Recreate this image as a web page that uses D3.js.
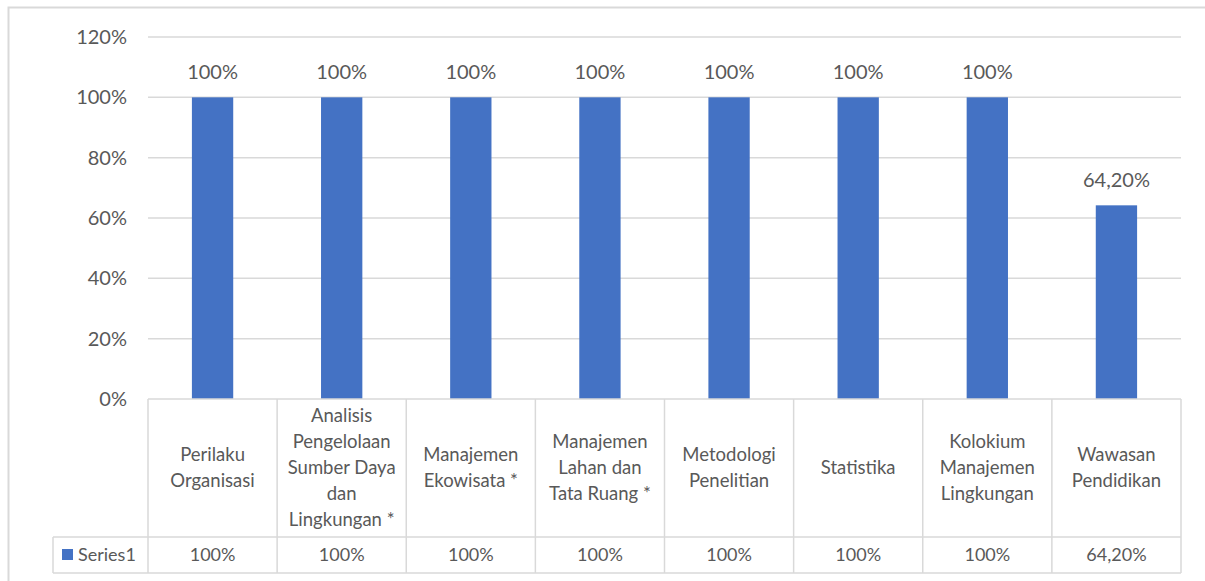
<!DOCTYPE html>
<html>
<head>
<meta charset="utf-8">
<script src="https://cdn.jsdelivr.net/npm/d3@7"></script>
<style>
  body { margin: 0; background: #fff; }
  text { font-family: Lato, "Open Sans", sans-serif; fill: #595959; }
</style>
</head>
<body>
<div id="chart"></div>
<script>
// categories and values
const categories = [
  ["Perilaku", "Organisasi"],
  ["Analisis", "Pengelolaan", "Sumber Daya", "dan", "Lingkungan *"],
  ["Manajemen", "Ekowisata *"],
  ["Manajemen", "Lahan dan", "Tata Ruang *"],
  ["Metodologi", "Penelitian"],
  ["Statistika"],
  ["Kolokium", "Manajemen", "Lingkungan"],
  ["Wawasan", "Pendidikan"]
]
const values = [100, 100, 100, 100, 100, 100, 100, 64.2]
const valueLabels = ["100%", "100%", "100%", "100%", "100%", "100%", "100%", "64,20%"]
const yTicks = [0, 20, 40, 60, 80, 100, 120]
const seriesName = "Series1"

const W = 1205, H = 581
const margin = { top: 37, left: 148, right: 24 }
const plotW = W - margin.left - margin.right
const zeroY = 399
const tableRow1 = 537
const tableRow2 = 573
const tableLeft = 53

const svg = d3.select("#chart").append("svg")
    .attr("width", W)
    .attr("height", H)

// outer chart border (top and left only visible)
svg.append("path")
    .attr("d", "M8.5," + H + "V7.5H" + W)
    .attr("fill", "none")
    .attr("stroke", "#d9d9d9")
    .attr("stroke-width", 2)

const x = d3.scaleBand()
    .domain(d3.range(categories.length))
    .range([margin.left, margin.left + plotW])
    .paddingInner(0.68)
    .paddingOuter(0.34)

const xCell = d3.scaleBand()
    .domain(d3.range(categories.length))
    .range([margin.left, margin.left + plotW])

const y = d3.scaleLinear()
    .domain([0, 120])
    .range([zeroY, margin.top])

// gridlines
svg.append("g")
    .selectAll("line")
    .data(yTicks.filter(d => d > 0))
    .enter()
    .append("line")
    .attr("x1", margin.left)
    .attr("x2", margin.left + plotW)
    .attr("y1", d => y(d))
    .attr("y2", d => y(d))
    .attr("stroke", "#d9d9d9")
    .attr("stroke-width", 1.5)

// y labels
svg.append("g")
    .selectAll("text")
    .data(yTicks)
    .enter()
    .append("text")
    .attr("x", 127)
    .attr("y", d => y(d))
    .attr("dy", "0.35em")
    .attr("text-anchor", "end")
    .style("font-size", "20px")
    .text(d => d + "%")

// bars
svg.append("g")
    .selectAll("rect")
    .data(values)
    .enter()
    .append("rect")
    .attr("x", (d, i) => x(i))
    .attr("y", d => y(d))
    .attr("width", x.bandwidth())
    .attr("height", d => zeroY - y(d))
    .attr("fill", "#4472c4")

// data labels
svg.append("g")
    .selectAll("text")
    .data(values)
    .enter()
    .append("text")
    .attr("x", (d, i) => x(i) + x.bandwidth() / 2)
    .attr("y", d => y(d) - 25)
    .attr("dy", "0.35em")
    .attr("text-anchor", "middle")
    .style("font-size", "20px")
    .text((d, i) => valueLabels[i])

// data table
const table = svg.append("g")
    .attr("stroke", "#d9d9d9")
    .attr("stroke-width", 1.5)

table.append("line")
    .attr("x1", margin.left).attr("x2", margin.left + plotW)
    .attr("y1", zeroY).attr("y2", zeroY)
table.append("line")
    .attr("x1", tableLeft).attr("x2", margin.left + plotW)
    .attr("y1", tableRow1).attr("y2", tableRow1)
table.append("line")
    .attr("x1", tableLeft).attr("x2", margin.left + plotW)
    .attr("y1", tableRow2).attr("y2", tableRow2)
table.append("line")
    .attr("x1", tableLeft).attr("x2", tableLeft)
    .attr("y1", tableRow1).attr("y2", tableRow2)
table.selectAll(".v")
    .data(d3.range(categories.length + 1))
    .enter()
    .append("line")
    .attr("x1", i => margin.left + i * xCell.bandwidth())
    .attr("x2", i => margin.left + i * xCell.bandwidth())
    .attr("y1", zeroY)
    .attr("y2", tableRow2)

// category labels
const lineH = 26
const catG = svg.append("g")
categories.forEach((lines, i) => {
    const cx = xCell(i) + xCell.bandwidth() / 2
    const midY = (zeroY + tableRow1) / 2
    const startY = midY - (lines.length - 1) * lineH / 2
    const t = catG.append("text")
        .attr("text-anchor", "middle")
        .style("font-size", "18.5px")
    lines.forEach((l, j) => {
        t.append("tspan")
            .attr("x", cx)
            .attr("y", startY + j * lineH)
            .attr("dy", "0.35em")
            .text(l)
    })
})

// series row
svg.append("rect")
    .attr("x", 62).attr("y", 549)
    .attr("width", 11).attr("height", 11)
    .attr("fill", "#4472c4")
svg.append("text")
    .attr("x", 78).attr("y", (tableRow1 + tableRow2) / 2)
    .attr("dy", "0.35em")
    .style("font-size", "18px")
    .text(seriesName)

svg.append("g")
    .selectAll("text")
    .data(valueLabels)
    .enter()
    .append("text")
    .attr("x", (d, i) => xCell(i) + xCell.bandwidth() / 2)
    .attr("y", (tableRow1 + tableRow2) / 2)
    .attr("dy", "0.35em")
    .attr("text-anchor", "middle")
    .style("font-size", "18px")
    .text(d => d)
</script>
</body>
</html>
